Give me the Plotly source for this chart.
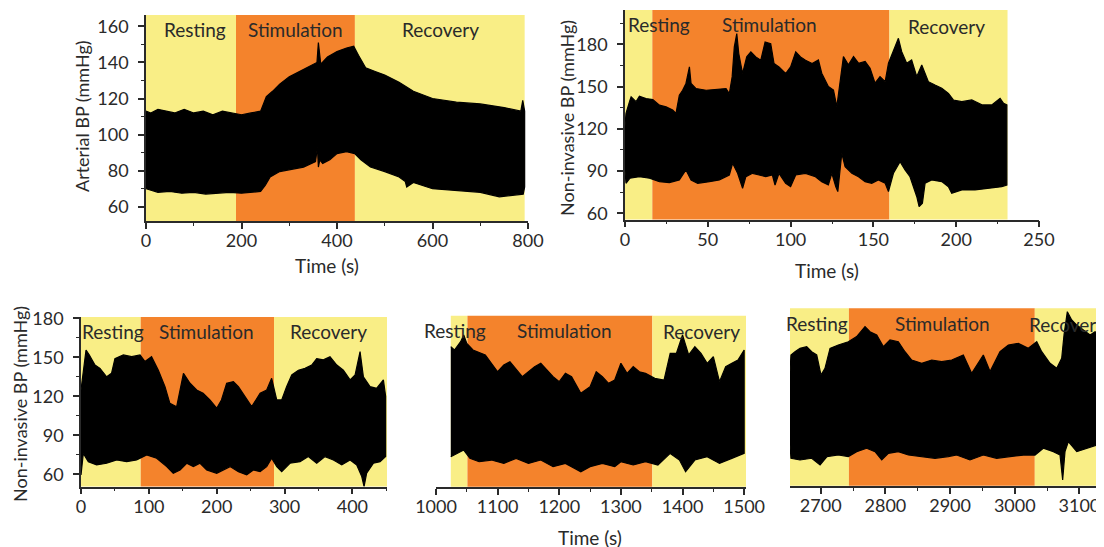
import plotly.graph_objects as go

W, H = 1104, 547
OX, OY = 8, 8  # page body margin compensation

# ---------------- data (envelopes of beat-to-beat BP, mmHg) ----------------
# Panel 1: Arterial BP
t_up1 = [0, 10, 25, 40, 60, 80, 100, 120, 140, 160, 180, 200, 220, 240, 246, 252, 265, 280, 300, 315, 330, 350, 358, 361, 366, 380, 400, 420, 435, 445, 460, 480, 500, 530, 560, 600, 650, 700, 750, 785, 789, 793]
up1 = [113, 112, 114, 113, 112, 114, 112, 113, 111, 113, 112, 111, 112, 113, 117, 121, 124, 128, 132, 134, 136, 139, 140, 151, 139, 143, 146, 148, 149, 144, 137, 135, 133, 129, 124, 120, 118, 117, 115, 113, 119, 113]
t_lo1 = [0, 25, 50, 75, 100, 125, 150, 175, 200, 225, 240, 250, 260, 280, 300, 330, 355, 359, 361, 364, 370, 385, 400, 420, 437, 450, 470, 500, 530, 543, 546, 560, 600, 650, 700, 740, 770, 790, 793]
lo1 = [70, 68, 68.5, 67.5, 68, 67, 67.5, 68, 67.5, 68, 68.5, 72, 76.5, 79.5, 80.5, 82, 85, 93, 82, 86, 84, 86, 89.5, 90.5, 89.5, 86, 82, 79.5, 76.5, 74, 71, 73.5, 70, 69, 68, 65.5, 66.5, 67, 71]
phases1 = [0, 188.5, 437.5, 793]

# Panel 2: Non-invasive BP
t_up2 = [0, 0.6, 3, 3.7, 6.7, 8.7, 12.7, 16.8, 20.8, 24.8, 28.8, 30.8, 32.8, 34.8, 36.8, 38.9, 39.9, 42.9, 49, 55, 61, 63, 64.7, 66, 67.5, 68.7, 71, 73.5, 76, 79, 82, 84.6, 88, 90, 93, 97, 100, 103.1, 106, 109, 113, 116.8, 118.8, 122.8, 125.9, 127.9, 129.9, 131.9, 134.9, 138, 141, 145, 148, 151, 154, 157.1, 159.1, 162.1, 165.1, 167.1, 170.1, 173.1, 176.2, 179.2, 183.2, 187.2, 191.3, 195.3, 198.3, 203.4, 209.4, 215.5, 221.5, 226.5, 228.6, 230.6]
up2 = [122, 131, 140.4, 142.8, 139.3, 143.2, 141.5, 140.8, 136.8, 135.6, 133.3, 131, 143.9, 147.4, 152.2, 164, 152.2, 148.6, 147.4, 148, 148.6, 145, 156.9, 178.2, 187.7, 173.5, 159.3, 171.1, 174.7, 171.1, 168.7, 181.7, 180.5, 166.4, 164, 159.3, 164, 174.7, 171.1, 168.7, 166.4, 168.9, 159.5, 150, 147.5, 135.7, 154.7, 171.3, 165.4, 171.3, 166.6, 167.8, 163, 152.4, 157.1, 153.5, 166.6, 176, 184.3, 174.8, 166.6, 168.9, 157.1, 165.4, 153.5, 151.1, 148.8, 145.2, 140.5, 139.3, 140.5, 137, 137, 141.7, 138.1, 137]
t_lo2 = [0, 0.6, 3, 8.7, 14.8, 20.8, 26.8, 32.8, 36.8, 39.9, 43.9, 51, 57, 63, 65, 68, 71, 73, 77, 81, 85, 89, 90.6, 93, 97, 100, 103.1, 109, 115, 118.8, 122.8, 124.9, 127.3, 128.5, 130.9, 132.9, 137, 141, 145, 149, 153, 157.1, 159.1, 162.1, 166.1, 169.1, 172.1, 174.2, 176.2, 177.6, 179.6, 181.2, 185.2, 191.3, 195.3, 197.3, 203.4, 211.4, 219.5, 227.5, 230.6]
lo2 = [90, 81.3, 84.9, 86, 84.9, 82.5, 81.8, 83.7, 90.8, 83.7, 81.3, 82.5, 83.7, 87.2, 95.5, 88.4, 77.8, 86, 88.4, 87.2, 86, 87.2, 80.1, 88.4, 81.3, 78.9, 87.2, 88.4, 86, 82.5, 80.1, 88.4, 78.9, 75.4, 102.6, 93.1, 88.4, 86, 82.5, 81.3, 83.7, 81.3, 75.4, 88.4, 96.7, 90.8, 86, 78.9, 71.8, 64.7, 67.1, 81.3, 83.7, 82.5, 78.9, 74.2, 76.6, 76.6, 77.8, 78.9, 80.1]
phases2 = [0, 16.5, 159.7, 231]

# Panel 3: Non-invasive BP, 0-450 s
t_up3 = [0, 3.4, 7.4, 12.3, 20.6, 28, 37.8, 45, 50, 62.4, 74.7, 87, 94.3, 104, 114, 123.8, 131, 141, 151, 160.7, 170.5, 180, 190, 200, 207, 214.7, 224.6, 232, 241.8, 251.6, 264, 273.7, 281, 288.5, 295.8, 303, 310.6, 320.4, 330.2, 340, 347.4, 357.2, 367, 377, 386.7, 396.6, 404, 411.3, 416.2, 426, 435.9, 445.7, 449]
up3 = [124.9, 140, 155.6, 151.8, 144, 141.5, 135, 137.7, 149, 151.8, 150.5, 151.8, 146.7, 150.5, 140, 127.4, 114.6, 112, 137.7, 130, 124.9, 122.3, 117.2, 110.8, 117.2, 130, 131.3, 127.4, 119.7, 112, 122.3, 124.9, 133.8, 117.2, 117.2, 127.4, 136.4, 140, 141.5, 144, 149, 148, 150.5, 144, 140, 132.6, 136.4, 154.4, 135, 127.4, 126.2, 132.6, 120]
t_lo3 = [0, 3.4, 10.8, 23, 37.8, 52.6, 67.3, 82, 96.8, 111.5, 126.3, 136, 146, 155.8, 165.6, 175.4, 185.3, 200, 209.8, 219.7, 232, 244.2, 254, 264, 273.7, 281, 288.5, 295.8, 308, 322.9, 335, 347.4, 359.7, 372, 384.3, 396.6, 406.4, 413.8, 417.2, 421, 431, 440.8, 449]
lo3 = [59.5, 76, 69.7, 67.2, 68.5, 71, 69.7, 71, 74.9, 72.3, 65.9, 60.8, 63.3, 68.5, 65.9, 68.5, 63.3, 60.8, 63.3, 65.9, 62, 59.5, 63.3, 62, 65.9, 72.3, 65.9, 62, 68.5, 69.7, 73.6, 68.5, 73.6, 71, 67.2, 71, 67.2, 58.2, 50.5, 60.8, 68.5, 69.7, 73.6]
phases3 = [0, 88, 284.5, 451]

# Panel 4: 1000-1500 s
t_up4 = [1024, 1030, 1040, 1045, 1050, 1060, 1080, 1100, 1110, 1120, 1140, 1160, 1170, 1190, 1200, 1210, 1220, 1235, 1250, 1260, 1270, 1280, 1290, 1300, 1310, 1320, 1330, 1340, 1355, 1370, 1380, 1390, 1400, 1410, 1420, 1430, 1440, 1450, 1460, 1470, 1480, 1490, 1500]
up4 = [158.2, 155.6, 162, 167.2, 160.7, 155.6, 151.8, 138.9, 144.1, 146.6, 135.1, 142.8, 145.4, 135.1, 131.3, 137.7, 135.1, 122.3, 127.4, 138.9, 135.1, 130, 132.5, 145.4, 137.7, 142.8, 138.9, 137.7, 133.8, 132.5, 153, 153, 167.2, 151.8, 158.2, 153, 145.4, 150.5, 131.3, 142.8, 145.4, 147.9, 155.6]
t_lo4 = [1024, 1035, 1045, 1055, 1070, 1090, 1110, 1130, 1150, 1170, 1190, 1210, 1235, 1250, 1270, 1290, 1300, 1320, 1340, 1360, 1380, 1395, 1405, 1420, 1440, 1460, 1480, 1500]
lo4 = [73.6, 76.1, 78.7, 72.3, 69.7, 71, 68.4, 72.3, 68.4, 71, 65.9, 68.4, 62, 65.9, 68.4, 65.9, 69.7, 67.2, 69.7, 67.2, 76.1, 71, 62, 71, 73.6, 68.4, 72.3, 76.1]
phases4 = [1024, 1051, 1351, 1503]

# Panel 5: 2650-3135 s
t_up5 = [2652.5, 2654, 2660.2, 2668, 2678.3, 2686, 2693.8, 2700.4, 2706.6, 2714.4, 2727.2, 2742.7, 2755.6, 2768.5, 2776.2, 2786.6, 2796.8, 2807.1, 2820, 2830.3, 2840.7, 2856.1, 2871.6, 2887, 2902.5, 2920.5, 2933.4, 2951.4, 2961.8, 2977.2, 2990.1, 3005.6, 3021, 3034, 3041.7, 3054.6, 3064.9, 3072.6, 3076.2, 3081.3, 3088.1, 3095.9, 3106.1, 3116.5, 3124.2, 3130.9, 3131.5]
up5 = [138.9, 151.8, 154.3, 156.9, 158.2, 154.3, 151.8, 136.4, 141.5, 156.9, 159.5, 162, 165.9, 173.6, 169.7, 167.2, 158.2, 163.3, 162, 154.3, 147.9, 145.4, 147.9, 146.6, 147.9, 151.8, 137.7, 151.8, 139, 154.3, 159.5, 160.7, 156.9, 162, 154.3, 145.4, 141.5, 149.2, 167.2, 185.1, 178.7, 174.8, 171, 167.2, 169.7, 167.2, 160]
t_lo5 = [2652.5, 2654, 2668, 2686, 2699, 2709.7, 2727.2, 2742.7, 2755.6, 2771, 2784, 2794.3, 2804.6, 2820, 2835.5, 2856.1, 2876.7, 2897.3, 2910.2, 2930.8, 2951.4, 2972, 2992.7, 3013.3, 3031.3, 3044.2, 3059.7, 3070, 3074.1, 3077.7, 3082.9, 3095.9, 3111.4, 3126.8, 3131.5]
lo5 = [82.5, 72.3, 71, 72.3, 67.2, 73.6, 74.8, 73.6, 77.4, 80, 77.4, 71, 76.1, 77.4, 74.8, 73.6, 72.3, 73.6, 74.8, 71, 74.8, 72.3, 73.6, 74.8, 74.8, 80, 77.4, 74.8, 55.6, 77.4, 85.1, 77.4, 80, 82.5, 85.1]
phases5 = [2652.5, 2743.6, 3031, 3135]

phase_names = ["Resting", "Stimulation", "Recovery"]
phase_colors = ["#F9EE86", "#F4832C", "#F9EE86"]

# ---------------- helpers ----------------
def xdom(a, b):
    return [(a - OX) / W, (b - OX) / W]

def ydom(top, bottom):
    return [1 - (bottom - OY) / H, 1 - (top - OY) / H]

INK = "#2a2a2a"
FONT = "Lato"

panels = [
    dict(t_up=t_up1, up=up1, t_lo=t_lo1, lo=lo1, ph=phases1,
         xd=xdom(146, 528), xr=[0, 800], xt=list(range(0, 801, 200)), xm=100,
         yd=ydom(15, 221), yr=[52.1, 166.3], yt=list(range(60, 161, 20)), ym=10, yshow=True),
    dict(t_up=t_up2, up=up2, t_lo=t_lo2, lo=lo2, ph=phases2,
         xd=xdom(625, 1039), xr=[0, 250], xt=list(range(0, 251, 50)), xm=25,
         yd=ydom(10, 219.5), yr=[55.6, 204.4], yt=list(range(60, 181, 30)), ym=15, yshow=True),
    dict(t_up=t_up3, up=up3, t_lo=t_lo3, lo=lo3, ph=phases3,
         xd=xdom(81, 387), xr=[0, 451], xt=list(range(0, 401, 100)), xm=50,
         yd=ydom(317, 486.5), yr=[50.6, 181], yt=list(range(60, 181, 30)), ym=15, yshow=True),
    dict(t_up=t_up4, up=up4, t_lo=t_lo4, lo=lo4, ph=phases4,
         xd=xdom(436, 746), xr=[1000, 1503], xt=list(range(1000, 1501, 100)), xm=50,
         yd=ydom(315.7, 486.7), yr=[50.5, 182], yt=[], ym=15, yshow=False),
    dict(t_up=t_up5, up=up5, t_lo=t_lo5, lo=lo5, ph=phases5,
         xd=xdom(790, 1104), xr=[2652.5, 3138], xt=list(range(2700, 3101, 100)), xm=50,
         yd=ydom(308.3, 485.7), yr=[51.2, 187.7], yt=[], ym=15, yshow=False),
]

fig = go.Figure()
shapes = []
layout = dict(
    width=W, height=H, autosize=False,
    margin=dict(l=0, r=0, t=0, b=0, pad=0),
    paper_bgcolor="white", plot_bgcolor="white",
    showlegend=False,
    font=dict(family=FONT, color=INK, size=18),
)

annotations = []

def ann(text, cx, cy, size=18, angle=0):
    annotations.append(dict(text=text, x=(cx - OX) / W, y=1 - (cy - OY) / H, xref="paper", yref="paper",
                            showarrow=False, textangle=angle, xanchor="center", yanchor="middle",
                            font=dict(family=FONT, size=size, color=INK)))

for i, p in enumerate(panels):
    n = "" if i == 0 else str(i + 1)
    xa, ya = "x" + n, "y" + n
    xs = p["t_up"] + p["t_lo"][::-1]
    ys = p["up"] + p["lo"][::-1]
    fig.add_trace(go.Scatter(x=xs, y=ys, mode="lines", fill="toself", fillcolor="black",
                             line=dict(color="black", width=1.2), hoverinfo="skip",
                             xaxis=xa, yaxis=ya))
    for k in range(3):
        shapes.append(dict(type="rect", xref=xa, yref=ya + " domain",
                           x0=p["ph"][k], x1=p["ph"][k + 1], y0=0, y1=1,
                           fillcolor=phase_colors[k], line=dict(width=0), layer="below"))
    layout["xaxis" + n] = dict(
        domain=p["xd"], range=p["xr"], anchor=ya, showline=True, linecolor=INK, linewidth=1.6,
        ticks="outside", tickvals=p["xt"], ticklen=6, tickwidth=1.5, tickcolor=INK,
        minor=dict(ticks="outside", dtick=p["xm"], ticklen=3, tickwidth=1.2, tickcolor=INK),
        tickfont=dict(family=FONT, size=18, color=INK), showgrid=False, zeroline=False,
        ticklabelstandoff=-3, automargin=False,
    )
    if p["yshow"]:
        layout["yaxis" + n] = dict(
            domain=p["yd"], range=p["yr"], anchor=xa, showline=True, linecolor=INK, linewidth=1.6,
            ticks="outside", tickvals=p["yt"], ticklen=6, tickwidth=1.5, tickcolor=INK,
            minor=dict(ticks="outside", dtick=p["ym"], ticklen=3, tickwidth=1.2, tickcolor=INK),
            tickfont=dict(family=FONT, size=18, color=INK), showgrid=False, zeroline=False,
            ticklabelstandoff=6, automargin=False,
        )
    else:
        layout["yaxis" + n] = dict(domain=p["yd"], range=p["yr"], anchor=xa, visible=False,
                                   showgrid=False, zeroline=False, automargin=False)

# phase labels (pixel centres)
label_pos = [
    [(195, 29), (295, 29), (440, 29)],
    [(659, 25), (769, 25), (946, 26)],
    [(113, 331), (206, 331), (328, 331)],
    [(455, 330), (564, 330), (701, 331)],
    [(817, 323), (942, 323), (1067, 324)],
]
for pos in label_pos:
    for name, (cx, cy) in zip(phase_names, pos):
        ann(name, cx, cy, size=19)

# axis titles
ann("Arterial BP (mmHg)", 82, 116, size=18, angle=-90)
ann("Non-invasive BP (mmHg)", 567, 118, size=18, angle=-90)
ann("Non-invasive BP (mmHg)", 20, 404, size=18, angle=-90)
ann("Time (s)", 327, 265, size=19)
ann("Time (s)", 827, 271, size=19)
ann("Time (s)", 590, 537, size=19)

layout["shapes"] = shapes
layout["annotations"] = annotations
fig.update_layout(**layout)
fig.write_html("out.html")
